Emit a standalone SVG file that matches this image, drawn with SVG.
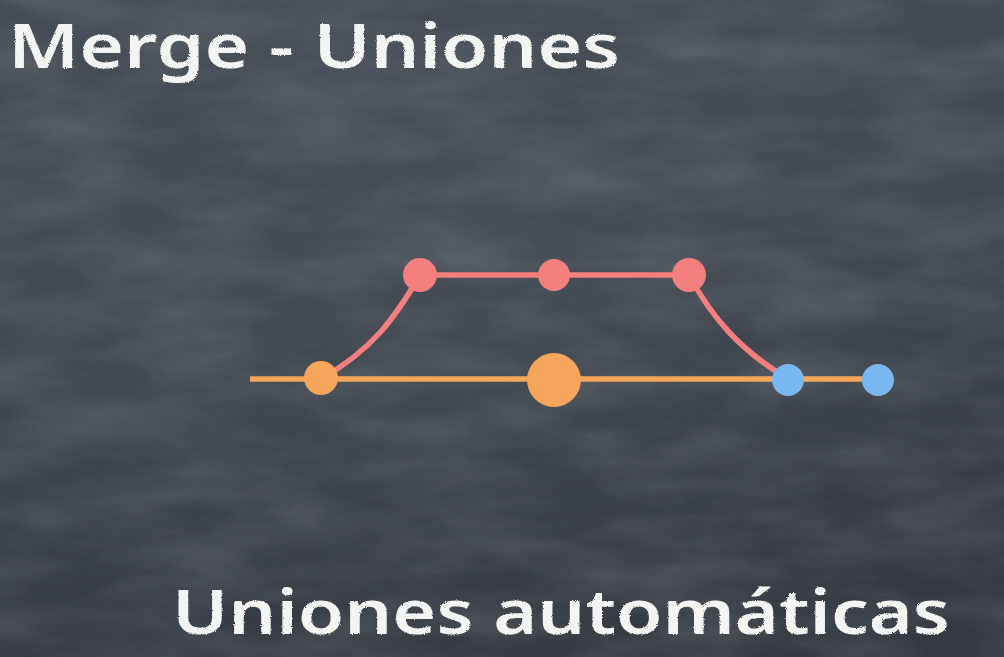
<svg xmlns="http://www.w3.org/2000/svg" width="1004" height="657" viewBox="0 0 1004 657">
  <defs>
    <linearGradient id="board" x1="0" y1="0" x2="0.3" y2="1">
      <stop offset="0" stop-color="#464c55"/>
      <stop offset="0.5" stop-color="#41474f"/>
      <stop offset="1" stop-color="#353a42"/>
    </linearGradient>
    <radialGradient id="smudge" cx="0.5" cy="0.45" r="0.6">
      <stop offset="0" stop-color="#6a727c" stop-opacity="0.12"/>
      <stop offset="1" stop-color="#6a727c" stop-opacity="0"/>
    </radialGradient>
    <filter id="grain" x="0" y="0" width="100%" height="100%">
      <feTurbulence type="fractalNoise" baseFrequency="0.008 0.025" numOctaves="4" seed="7" result="n"/>
      <feColorMatrix in="n" type="matrix" values="0 0 0 0 0.55  0 0 0 0 0.58  0 0 0 0 0.62  0 0 0 0.28 -0.09"/>
    </filter>
    <filter id="chalk" x="-5%" y="-20%" width="110%" height="140%">
      <feTurbulence type="fractalNoise" baseFrequency="0.9" numOctaves="2" seed="3" result="t"/>
      <feDisplacementMap in="SourceGraphic" in2="t" scale="2.5"/>
    </filter>
    <style>
      .chalk { font-family: "Comic Sans MS", "Noto Sans", "Liberation Sans", sans-serif; font-weight: 600; fill: #f4f4f2; filter: url(#chalk); }
      .edge { fill: none; stroke-width: 5.5; stroke-linecap: butt; }
      .main { stroke: #f5a65b; }
      .branch { stroke: #f47f7f; }
      .c-main { fill: #f5a65b; }
      .c-branch { fill: #f47f7f; }
      .c-merged { fill: #78b7ef; }
    </style>
  </defs>

  <!-- chalkboard -->
  <rect width="1004" height="657" fill="url(#board)"/>
  <rect width="1004" height="657" fill="url(#smudge)"/>
  <rect width="1004" height="657" filter="url(#grain)"/>

  <!-- titles -->
  <text id="title" class="chalk" x="8" y="68" font-size="62" textLength="612" lengthAdjust="spacingAndGlyphs">Merge - Uniones</text>
  <text id="caption" class="chalk" x="172" y="634" font-size="62" textLength="778" lengthAdjust="spacingAndGlyphs">Uniones automáticas</text>

  <!-- connectors -->
  <g id="edges">
    <line class="edge main" x1="250" y1="379" x2="880" y2="379"/>
    <line class="edge branch" x1="420" y1="275" x2="689" y2="275"/>
    <path class="edge branch" d="M321,379 C372,350 395,318 420,275"/>
    <path class="edge branch" d="M689,275 C712,318 740,350 788,379"/>
  </g>

  <!-- commits -->
  <g id="main-1"><circle class="c-main" cx="321" cy="378" r="17"/></g>
  <g id="main-2"><circle class="c-main" cx="554" cy="380" r="27"/></g>
  <g id="branch-1"><circle class="c-branch" cx="420" cy="275" r="17"/></g>
  <g id="branch-2"><circle class="c-branch" cx="554" cy="275" r="16"/></g>
  <g id="branch-3"><circle class="c-branch" cx="689" cy="275" r="17"/></g>
  <g id="merge"><circle class="c-merged" cx="788" cy="380" r="16"/></g>
  <g id="main-3"><circle class="c-merged" cx="878" cy="380" r="16"/></g>
</svg>
